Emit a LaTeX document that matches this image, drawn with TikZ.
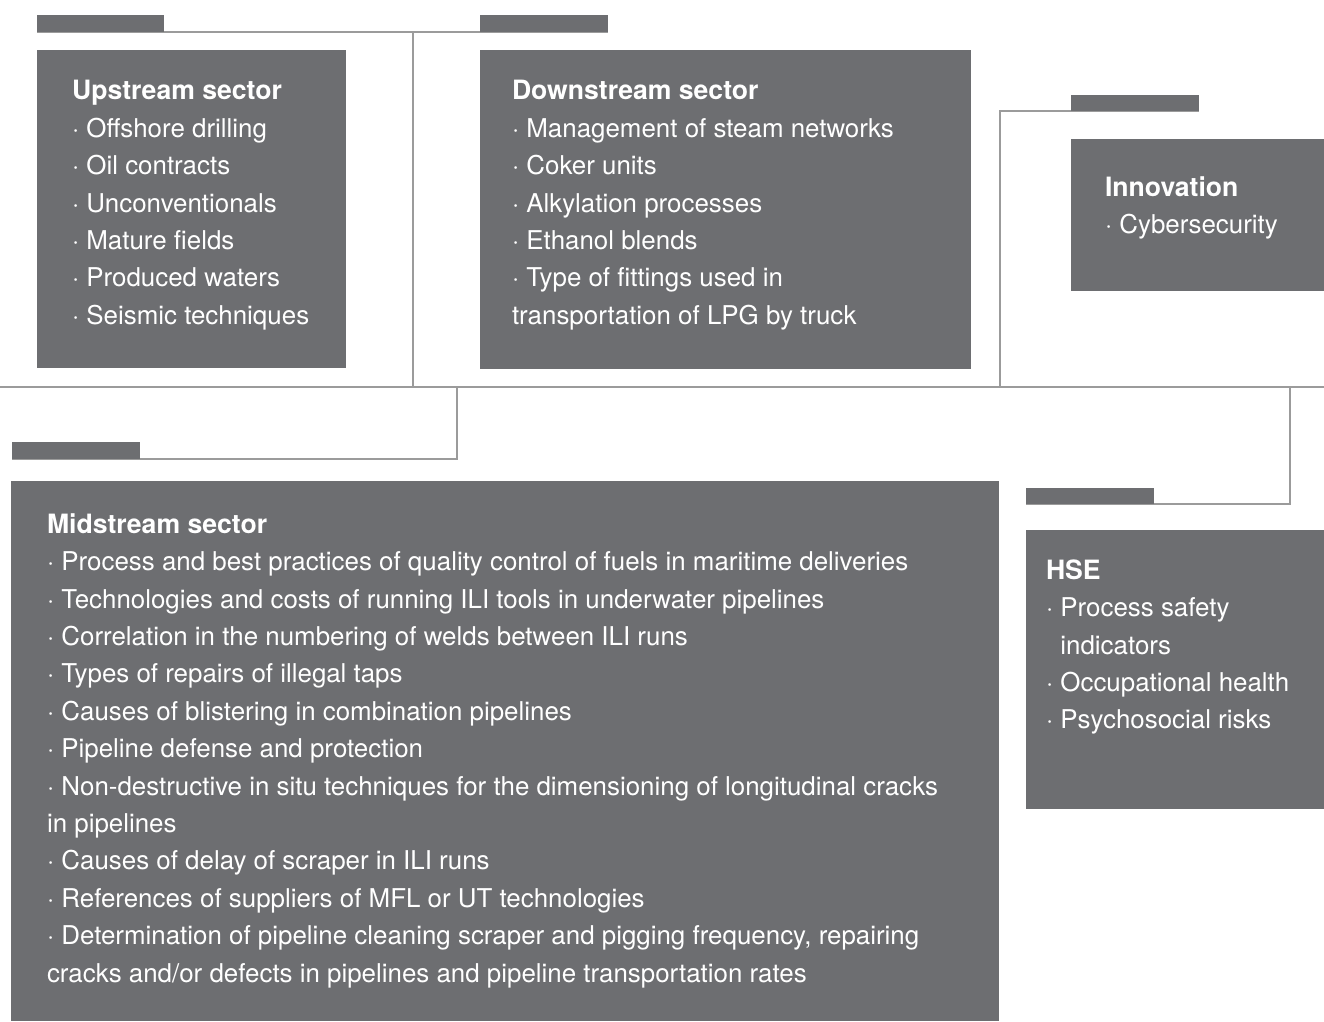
\documentclass[tikz,border=0pt]{standalone}
\usepackage{fontspec}
\setmainfont{TeX Gyre Heros}
\definecolor{boxgray}{HTML}{6D6E71}
\definecolor{linegray}{HTML}{9B9B9B}
\newcommand\hdtxt[1]{{\fontsize{26.6}{37.4}\selectfont\bfseries #1}}
\begin{document}
\begin{tikzpicture}[x=1pt,y=-1pt,
  box/.style={fill=boxgray, draw=none, inner sep=0, outer sep=0, anchor=north west},
  txt/.style={text=white, inner sep=0, outer sep=0, anchor=north west, align=left,
    font=\fontsize{25.9}{37.4}\selectfont},
  conn/.style={draw=linegray, line width=1.5pt}]
\useasboundingbox (0,0) rectangle (1324,1021);
% connector junctions
\coordinate (hl) at (0,387);
\coordinate (hr) at (1324,387);
\coordinate (j1) at (413,32);
\coordinate (j1b) at (413,387);
\coordinate (j3) at (1000,111);
\coordinate (j3b) at (1000,387);
\coordinate (j4) at (457,459);
\coordinate (j4b) at (457,387);
\coordinate (j5) at (1290,504);
\coordinate (j5b) at (1290,387);
% tabs
\node[box, minimum width=127, minimum height=17] (t1) at (37,15) {};
\node[box, minimum width=128, minimum height=17] (t2) at (480,15) {};
\node[box, minimum width=128, minimum height=16] (t3) at (1071,95) {};
\node[box, minimum width=128, minimum height=17] (t4) at (12,442) {};
\node[box, minimum width=128, minimum height=16] (t5) at (1026,488) {};
% connectors
\draw[conn] (hl) -- (hr);
\draw[conn] (t1.south west) -- (j1) -- (t2.south east);
\draw[conn] (j1) -- (j1b);
\draw[conn] (j3b) -- (j3) -- (t3.south east);
\draw[conn] (j4b) -- (j4) -- (t4.south west);
\draw[conn] (j5b) -- (j5) -- (t5.south west);
% redraw tabs on top
\fill[boxgray] (t1.north west) rectangle (t1.south east);
\fill[boxgray] (t2.north west) rectangle (t2.south east);
\fill[boxgray] (t3.north west) rectangle (t3.south east);
\fill[boxgray] (t4.north west) rectangle (t4.south east);
\fill[boxgray] (t5.north west) rectangle (t5.south east);
% boxes
\node[box, minimum width=309, minimum height=318] (up) at (37,50) {};
\node[box, minimum width=491, minimum height=319] (down) at (480,50) {};
\node[box, minimum width=253, minimum height=152] (inno) at (1071,139) {};
\node[box, minimum width=988, minimum height=540] (mid) at (11,481) {};
\node[box, minimum width=298, minimum height=279] (hse) at (1026,530) {};
% texts
\node[txt] (uptxt) at (72,80.5) {\hdtxt{Upstream sector}\\
· Offshore drilling\\
· Oil contracts\\
· Unconventionals\\
· Mature fields\\
· Produced waters\\
· Seismic techniques};
\node[txt] (downtxt) at (512,80.5) {\hdtxt{Downstream sector}\\
· Management of steam networks\\
· Coker units\\
· Alkylation processes\\
· Ethanol blends\\
· Type of fittings used in\\
transportation of LPG by truck};
\node[txt] (innotxt) at (1105,176.5) {\hdtxt{Innovation}\\
· Cybersecurity};
\node[txt] (midtxt) at (47,513.5) {\hdtxt{Midstream sector}\\
· Process and best practices of quality control of fuels in maritime deliveries\\
· Technologies and costs of running ILI tools in underwater pipelines\\
· Correlation in the numbering of welds between ILI runs\\
· Types of repairs of illegal taps\\
· Causes of blistering in combination pipelines\\
· Pipeline defense and protection\\
· Non-destructive in situ techniques for the dimensioning of longitudinal cracks\\
in pipelines\\
· Causes of delay of scraper in ILI runs\\
· References of suppliers of MFL or UT technologies\\
· Determination of pipeline cleaning scraper and pigging frequency, repairing\\
cracks and/or defects in pipelines and pipeline transportation rates};
\node[txt] (hsetxt) at (1046,559.5) {\hdtxt{HSE}\\
· Process safety\\
\hphantom{· }indicators\\
· Occupational health\\
· Psychosocial risks};
\end{tikzpicture}
\end{document}
